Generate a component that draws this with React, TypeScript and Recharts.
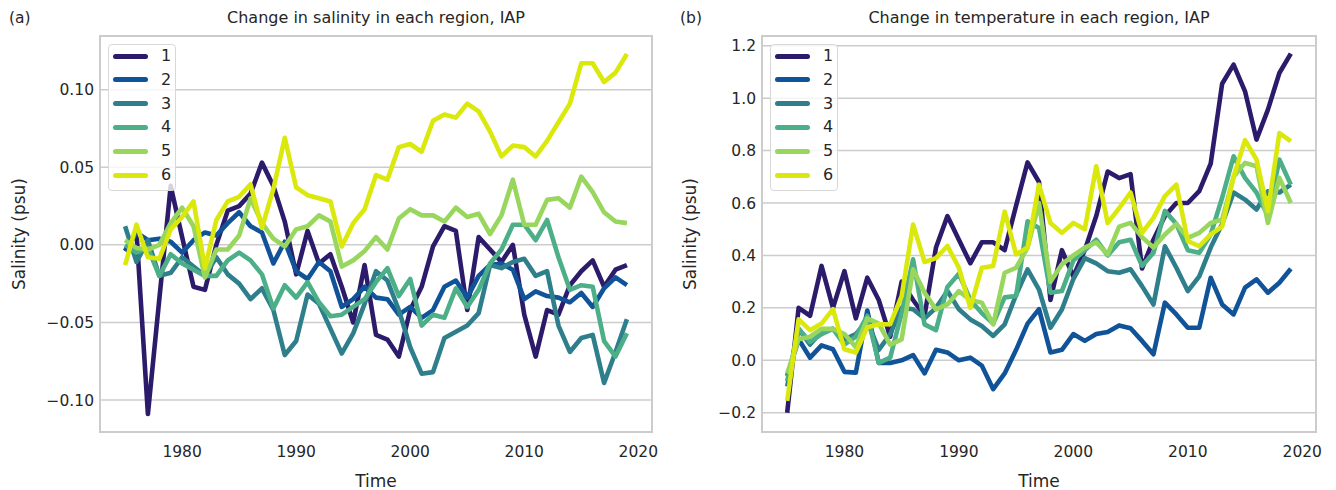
import React from "react";
import {
  CartesianGrid,
  Legend,
  Line,
  LineChart,
  ReferenceArea,
  XAxis,
  YAxis,
} from "recharts";

const years = [
  1975, 1976, 1977, 1978, 1979, 1980, 1981, 1982, 1983, 1984, 1985, 1986, 1987,
  1988, 1989, 1990, 1991, 1992, 1993, 1994, 1995, 1996, 1997, 1998, 1999, 2000,
  2001, 2002, 2003, 2004, 2005, 2006, 2007, 2008, 2009, 2010, 2011, 2012, 2013,
  2014, 2015, 2016, 2017, 2018, 2019,
];

const regionNames = ["1", "2", "3", "4", "5", "6"];
const regionColors = ["#2c1b6b", "#115398", "#2e7e8b", "#4caf88", "#98d65e", "#dbe80c"];

// salinity (psu), IAP
const salinity1 = [
  -0.004, 0.008, -0.109, -0.035, 0.038, 0.005, -0.027, -0.029, 0.0, 0.022, 0.025, 0.033, 0.053,
  0.038, 0.015, -0.019, 0.009, -0.012, -0.006, -0.027, -0.05, -0.013, -0.058, -0.061, -0.072, -0.042,
  -0.027, -0.001, 0.012, 0.009, -0.042, 0.005, -0.003, -0.011, 0.0, -0.045, -0.072, -0.042, -0.045,
  -0.026, -0.017, -0.01, -0.027, -0.016, -0.013,
];
const salinity2 = [
  -0.004, 0.008, 0.003, 0.004, 0.002, -0.005, 0.003, 0.008, 0.006, 0.014, 0.021, 0.012, 0.008,
  -0.012, 0.002, -0.017, -0.022, -0.011, -0.017, -0.04, -0.035, -0.027, -0.034, -0.035, -0.045, -0.04,
  -0.047, -0.042, -0.027, -0.023, -0.034, -0.02, -0.013, -0.012, -0.016, -0.035, -0.03, -0.033, -0.034,
  -0.037, -0.031, -0.04, -0.028, -0.021, -0.026,
];
const salinity3 = [
  0.012, -0.011, 0.003, -0.02, -0.018, -0.008, -0.014, -0.02, -0.008, -0.019, -0.025, -0.035, -0.028,
  -0.042, -0.071, -0.062, -0.032, -0.038, -0.054, -0.07, -0.057, -0.038, -0.017, -0.023, -0.042, -0.066,
  -0.083, -0.082, -0.06, -0.056, -0.052, -0.044, -0.013, -0.015, -0.011, -0.009, -0.02, -0.017, -0.052,
  -0.069, -0.06, -0.058, -0.089, -0.069, -0.048,
];
const salinity4 = [
  0.0, -0.005, -0.002, -0.02, -0.006, -0.012, -0.016, -0.02, -0.02, -0.01, -0.005, -0.01, -0.019,
  -0.041, -0.026, -0.034, -0.024, -0.037, -0.046, -0.045, -0.04, -0.035, -0.024, -0.015, -0.033, -0.022,
  -0.052, -0.045, -0.047, -0.028, -0.04, -0.029, -0.012, -0.003, 0.013, 0.013, 0.003, 0.016, -0.008,
  -0.029, -0.026, -0.027, -0.062, -0.072, -0.057,
];
const salinity5 = [
  0.003, -0.002, -0.003, 0.0, 0.014, 0.024, 0.012, -0.021, -0.003, -0.003, 0.006, 0.03, 0.014,
  0.004, -0.001, 0.01, 0.012, 0.019, 0.015, -0.014, -0.01, -0.004, 0.005, -0.003, 0.017, 0.023,
  0.019, 0.019, 0.015, 0.024, 0.018, 0.02, 0.007, 0.019, 0.042, 0.013, 0.013, 0.029, 0.03,
  0.024, 0.044, 0.034, 0.021, 0.015, 0.014,
];
const salinity6 = [
  -0.013, 0.013, -0.008, -0.009, 0.01, 0.018, 0.028, -0.015, 0.016, 0.028, 0.031, 0.039, 0.011,
  0.036, 0.069, 0.037, 0.032, 0.03, 0.028, -0.001, 0.014, 0.023, 0.045, 0.042, 0.063, 0.065,
  0.06, 0.08, 0.084, 0.082, 0.091, 0.086, 0.073, 0.057, 0.064, 0.063, 0.057, 0.067, 0.079,
  0.091, 0.117, 0.117, 0.105, 0.111, 0.123,
];

// temperature, IAP
const temperature1 = [
  -0.2, 0.2, 0.17, 0.36, 0.2, 0.34, 0.16, 0.315, 0.23, 0.09, 0.3, 0.23, 0.17,
  0.43, 0.55, 0.46, 0.37, 0.45, 0.45, 0.42, 0.59, 0.755, 0.68, 0.23, 0.42, 0.32,
  0.42, 0.55, 0.72, 0.695, 0.71, 0.35, 0.46, 0.55, 0.6, 0.6, 0.645, 0.75, 1.055,
  1.128, 1.026, 0.842, 0.956, 1.096, 1.17,
];
const temperature2 = [
  -0.06, 0.08, 0.01, 0.057, 0.042, -0.044, -0.047, 0.19, -0.01, -0.01, 0.0, 0.02, -0.05,
  0.04, 0.03, 0.0, 0.01, -0.02, -0.11, -0.05, 0.04, 0.14, 0.195, 0.03, 0.04, 0.1,
  0.074, 0.1, 0.108, 0.133, 0.122, 0.074, 0.023, 0.22, 0.175, 0.124, 0.124, 0.315, 0.213,
  0.175, 0.277, 0.309, 0.258, 0.296, 0.349,
];
const temperature3 = [
  -0.1, 0.12, 0.06, 0.11, 0.12, 0.08, 0.1, 0.15, 0.04, 0.1, 0.2, 0.195, 0.16,
  0.2, 0.264, 0.195, 0.156, 0.131, 0.093, 0.137, 0.25, 0.347, 0.27, 0.124, 0.194, 0.31,
  0.39, 0.37, 0.34, 0.334, 0.347, 0.283, 0.213, 0.435, 0.353, 0.264, 0.32, 0.43, 0.52,
  0.64, 0.613, 0.575, 0.645, 0.64, 0.67,
];
const temperature4 = [
  -0.08, 0.12, 0.07, 0.1, 0.12, 0.06, 0.09, 0.17, -0.01, 0.01, 0.18, 0.385, 0.137,
  0.115, 0.28, 0.33, 0.23, 0.18, 0.14, 0.24, 0.245, 0.53, 0.505, 0.258, 0.264, 0.38,
  0.42, 0.46, 0.4, 0.45, 0.46, 0.36, 0.41, 0.57, 0.52, 0.42, 0.41, 0.48, 0.62,
  0.778, 0.696, 0.64, 0.55, 0.766, 0.67,
];
const temperature5 = [
  -0.05, 0.08, 0.09, 0.12, 0.12, 0.1, 0.05, 0.16, 0.14, 0.06, 0.08, 0.347, 0.258,
  0.194, 0.213, 0.264, 0.23, 0.22, 0.137, 0.334, 0.353, 0.43, 0.6, 0.3, 0.366, 0.4,
  0.43, 0.45, 0.404, 0.51, 0.524, 0.47, 0.43, 0.48, 0.52, 0.467, 0.486, 0.524, 0.537,
  0.7, 0.753, 0.74, 0.524, 0.696, 0.6,
];
const temperature6 = [
  -0.155, 0.156, 0.115, 0.14, 0.195, 0.042, 0.03, 0.126, 0.137, 0.138, 0.245, 0.518, 0.375,
  0.39, 0.436, 0.353, 0.2, 0.353, 0.36, 0.567, 0.404, 0.43, 0.67, 0.524, 0.486, 0.524,
  0.5, 0.74, 0.524, 0.58, 0.64, 0.486, 0.543, 0.626, 0.67, 0.455, 0.435, 0.48, 0.51,
  0.7, 0.84, 0.766, 0.569, 0.867, 0.836,
];

const xTicks = [1980, 1990, 2000, 2010, 2020];
const salinityTicks = [-0.1, -0.05, 0, 0.05, 0.1];
const temperatureTicks = [-0.2, 0, 0.2, 0.4, 0.6, 0.8, 1.0, 1.2];

const FONT = "'DejaVu Sans', 'Liberation Sans', sans-serif";
const TEXT = "#262626";
const GRID = "#cccccc";
const X_DOMAIN: [number, number] = [1972.8, 2021.2];

function buildRows(series: number[][]) {
  return years.map((year, i) => {
    const row: Record<string, number> = { year };
    series.forEach((s, k) => {
      row["r" + (k + 1)] = s[i];
    });
    return row;
  });
}

const salinityRows = buildRows([salinity1, salinity2, salinity3, salinity4, salinity5, salinity6]);
const temperatureRows = buildRows([
  temperature1,
  temperature2,
  temperature3,
  temperature4,
  temperature5,
  temperature6,
]);

function minus(s: string) {
  return s.replace("-", "\u2212");
}

function LegendBox() {
  return (
    <div
      style={{
        width: 66,
        height: 145,
        border: "1px solid #d8d8d8",
        borderRadius: 4,
        background: "rgba(255,255,255,0.8)",
        position: "relative",
        fontFamily: FONT,
        fontSize: 16,
        color: TEXT,
      }}
    >
      {regionNames.map((name, i) => (
        <div key={name} style={{ position: "absolute", left: 0, top: 11 + i * 23.8, height: 2 }}>
          <div
            style={{
              position: "absolute",
              left: 4,
              top: -2.5,
              width: 35,
              height: 5,
              borderRadius: 2.5,
              background: regionColors[i],
            }}
          />
          <div style={{ position: "absolute", left: 52, top: -10, lineHeight: "20px" }}>{name}</div>
        </div>
      ))}
    </div>
  );
}

type PanelProps = {
  left: number;
  axisWidth: number;
  rightMargin: number;
  rows: Record<string, number>[];
  yDomain: [number, number];
  yTicks: number[];
  yFormat: (v: number) => string;
  letter: string;
  letterX: number;
  title: string;
  ylabelX: number;
};

function Panel(props: PanelProps) {
  const plotLeft = props.left + props.axisWidth;
  const plotRight = props.left + 668 - props.rightMargin;
  const center = (plotLeft + plotRight) / 2;
  return (
    <>
      <div style={{ position: "absolute", left: props.left, top: 0 }}>
        <LineChart
          width={668}
          height={490}
          data={props.rows}
          margin={{ top: 36, right: props.rightMargin, bottom: 0, left: 0 }}
        >
          <CartesianGrid vertical={false} stroke={GRID} strokeWidth={1.5} />
          <XAxis
            dataKey="year"
            type="number"
            domain={X_DOMAIN}
            ticks={xTicks}
            allowDataOverflow
            height={58}
            tickLine={false}
            axisLine={false}
            tickSize={0}
            tickMargin={14}
            tick={{ fill: TEXT, fontSize: 15.5, fontFamily: FONT }}
          />
          <YAxis
            type="number"
            domain={props.yDomain}
            ticks={props.yTicks}
            allowDataOverflow
            width={props.axisWidth}
            tickLine={false}
            axisLine={false}
            tickSize={0}
            tickMargin={6}
            tickFormatter={props.yFormat}
            tick={{ fill: TEXT, fontSize: 15.5, fontFamily: FONT }}
          />
          <ReferenceArea
            x1={X_DOMAIN[0]}
            x2={X_DOMAIN[1]}
            y1={props.yDomain[0]}
            y2={props.yDomain[1]}
            fill="none"
            stroke={GRID}
            strokeWidth={2}
          />
          {regionNames.map((name, i) => (
            <Line
              key={name}
              dataKey={"r" + (i + 1)}
              name={name}
              stroke={regionColors[i]}
              strokeWidth={4.6}
              strokeLinejoin="round"
              dot={false}
              activeDot={false}
              type="linear"
              isAnimationActive={false}
            />
          ))}
          <Legend
            layout="vertical"
            align="center"
            verticalAlign="middle"
            wrapperStyle={{ left: props.axisWidth + 8, top: 44, width: "auto" }}
            content={() => <LegendBox />}
          />
        </LineChart>
      </div>
      <div
        style={{
          position: "absolute",
          left: props.letterX,
          top: 8,
          fontFamily: FONT,
          fontSize: 15.5,
          color: TEXT,
          lineHeight: "20px",
        }}
      >
        {props.letter}
      </div>
      <div
        style={{
          position: "absolute",
          left: center - 300,
          width: 600,
          top: 8,
          textAlign: "center",
          fontFamily: FONT,
          fontSize: 16,
          color: TEXT,
          lineHeight: "20px",
        }}
      >
        {props.title}
      </div>
      <div
        style={{
          position: "absolute",
          left: center - 100,
          width: 200,
          top: 470,
          textAlign: "center",
          fontFamily: FONT,
          fontSize: 17,
          color: TEXT,
          lineHeight: "22px",
        }}
      >
        Time
      </div>
      <div
        style={{
          position: "absolute",
          left: props.ylabelX - 100,
          width: 200,
          top: 234 - 11,
          textAlign: "center",
          fontFamily: FONT,
          fontSize: 17,
          color: TEXT,
          lineHeight: "22px",
          transform: "rotate(-90deg)",
        }}
      >
        Salinity (psu)
      </div>
    </>
  );
}

export default function App() {
  return (
    <div style={{ position: "absolute", left: 0, top: 0, width: 1336, height: 490, background: "#fff" }}>
      <style>{"body{margin:0}"}</style>
      <Panel
        left={0}
        axisWidth={100}
        rightMargin={16}
        rows={salinityRows}
        yDomain={[-0.1206, 0.1346]}
        yTicks={salinityTicks}
        yFormat={(v) => minus(v.toFixed(2))}
        letter="(a)"
        letterX={9}
        title="Change in salinity in each region, IAP"
        ylabelX={19}
      />
      <Panel
        left={668}
        axisWidth={94}
        rightMargin={20}
        rows={temperatureRows}
        yDomain={[-0.2735, 1.237]}
        yTicks={temperatureTicks}
        yFormat={(v) => minus(v.toFixed(1))}
        letter="(b)"
        letterX={680}
        title="Change in temperature in each region, IAP"
        ylabelX={690}
      />
    </div>
  );
}
